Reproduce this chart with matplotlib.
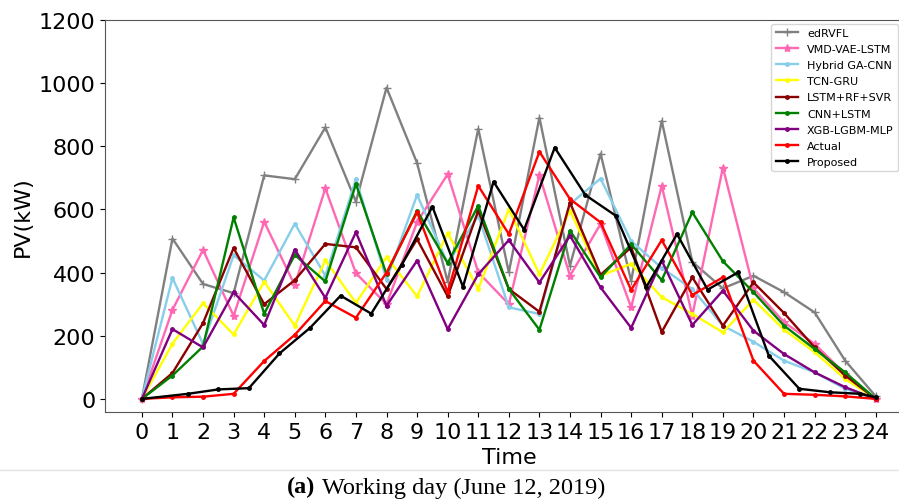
import numpy as np
import matplotlib
matplotlib.use("Agg")
import matplotlib.pyplot as plt
from matplotlib.lines import Line2D

hours = list(range(25))
# the proposed curve sits on half-hour steps in the original figure
hours_proposed = [0] + [h + 0.5 for h in range(1, 24)] + [24]

edrvfl = [0, 508, 364, 335, 708, 696, 860, 625, 986, 747, 371, 856, 401,
          891, 422, 777, 374, 881, 434, 350, 390, 338, 274, 121, 8]
vmd_vae_lstm = [0, 282, 472, 263, 561, 360, 667, 398, 300, 560, 712, 401, 300,
                709, 390, 554, 290, 675, 264, 733, 350, 243, 174, 79, 0]
hybrid_ga_cnn = [0, 383, 174, 455, 375, 555, 390, 696, 378, 646, 430, 580, 290,
                 269, 617, 698, 500, 415, 348, 232, 181, 121, 84, 32, 0]
tcn_gru = [0, 175, 303, 204, 371, 232, 439, 304, 449, 325, 525, 348, 601,
           395, 596, 390, 428, 322, 269, 211, 314, 219, 148, 63, 0]
lstm_rf_svr = [0, 82, 240, 478, 300, 376, 491, 480, 348, 506, 325, 596, 348,
               276, 622, 393, 480, 212, 385, 232, 369, 272, 163, 74, 0]
cnn_lstm = [0, 74, 166, 575, 270, 456, 372, 681, 395, 596, 430, 612, 348,
            219, 533, 385, 490, 376, 591, 436, 338, 232, 158, 84, 0]
xgb_lgbm_mlp = [0, 221, 163, 338, 234, 473, 320, 528, 295, 438, 221, 395, 503,
                369, 517, 353, 225, 438, 234, 343, 216, 142, 84, 37, 0]
actual = [0, 5, 7, 16, 120, 203, 310, 257, 400, 591, 338, 675, 522,
          783, 633, 559, 345, 503, 329, 385, 121, 16, 13, 8, 0]
proposed = [0, 16, 30, 34, 144, 225, 327, 270, 425, 609, 355, 688, 536,
            796, 646, 580, 355, 522, 346, 401, 137, 32, 21, 16, 5]

series = [
    ("edRVFL", edrvfl, "gray", "+", 6),
    ("VMD-VAE-LSTM", vmd_vae_lstm, "hotpink", "*", 6),
    ("Hybrid GA-CNN", hybrid_ga_cnn, "skyblue", ".", 5),
    ("TCN-GRU", tcn_gru, "yellow", ".", 5),
    ("LSTM+RF+SVR", lstm_rf_svr, "darkred", ".", 5),
    ("CNN+LSTM", cnn_lstm, "green", ".", 5),
    ("XGB-LGBM-MLP", xgb_lgbm_mlp, "purple", ".", 5),
    ("Actual", actual, "red", ".", 5),
]

fig = plt.figure(figsize=(8.99, 5.02), dpi=100)
ax = fig.add_axes([0.117, 0.177, 0.898, 0.781])

for name, vals, col, mk, ms in series:
    ax.plot(hours, vals, color=col, marker=mk, markersize=ms, lw=1.7, label=name)
ax.plot(hours_proposed, proposed, color="black", marker=".", markersize=5,
        lw=1.7, label="Proposed")

ax.set_xlim(-1.2, 25.2)
ax.set_ylim(-42, 1200)
ax.set_xticks(hours)
ax.set_xticklabels([str(h) for h in hours])
ax.set_yticks([0, 200, 400, 600, 800, 1000, 1200])
ax.tick_params(labelsize=16)
ax.set_xlabel("Time", fontsize=16, labelpad=4)
ax.set_ylabel("PV(kW)", fontsize=16)
for s in ax.spines.values():
    s.set_color("#555555")

# legend pinned to the figure's right edge, as in the cropped original
ax.legend(loc="upper right", fontsize=8, labelspacing=0.55,
          bbox_to_anchor=(0.999, 0.951), bbox_transform=fig.transFigure,
          borderaxespad=0)

fig.add_artist(Line2D([0.0, 1.0], [0.062, 0.062], color="#e3e3e3", lw=1))

fig.text(0.319, 0.028, "(a)", family="Liberation Serif", fontsize=17.5,
         fontweight="bold", va="center", ha="left")
fig.text(0.358, 0.028, "Working day (June 12, 2019)", family="Liberation Serif",
         fontsize=17.5, va="center", ha="left")

fig.savefig("out.png", dpi=100)
